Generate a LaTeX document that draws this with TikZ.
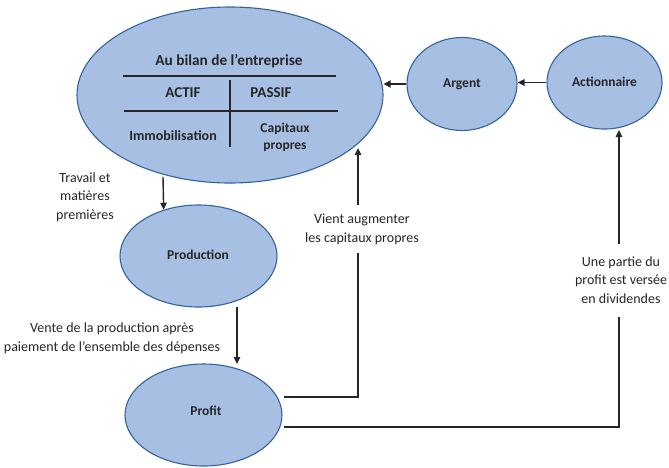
\documentclass[tikz,border=0pt]{standalone}
\usepackage{fontspec}
\setmainfont{Carlito}
\usetikzlibrary{arrows.meta,shapes.geometric}
\definecolor{bubble}{RGB}{167,191,227}
\definecolor{bubbleedge}{RGB}{52,98,162}
\definecolor{ink}{RGB}{38,38,38}
\tikzset{
  bubblenode/.style={ellipse, draw=bubbleedge, line width=1.1pt, fill=bubble,
    inner sep=0pt, text=ink, font=\fontsize{13.5}{17}\selectfont\bfseries},
  lbl/.style={text=ink, font=\fontsize{14}{18.7}\selectfont, align=center, inner sep=1pt},
  tbl/.style={text=ink, font=\fontsize{13.5}{17}\selectfont\bfseries, align=center, inner sep=0pt},
  rule/.style={draw=ink, line width=1.5pt},
  arr/.style={draw=ink, line width=1.4pt, -{Triangle[length=7pt,width=6.5pt]}},
  arrthick/.style={draw=ink, line width=2.2pt, -{Triangle[length=7pt,width=7pt]}},
}
\begin{document}
\begin{tikzpicture}[x=1pt,y=-1pt]
\useasboundingbox (0,0) rectangle (669,467);

% ellipses
\node[bubblenode, minimum width=306pt, minimum height=176pt] (bilan) at (230,95) {};
\node[bubblenode, minimum width=110pt, minimum height=93pt] (argent) at (462,84) {};
\node[bubblenode, minimum width=115pt, minimum height=93pt] (actionnaire) at (604.5,82.5) {};
\node[bubblenode, minimum width=157pt, minimum height=102pt] (production) at (198.5,256) {};
\node[bubblenode, minimum width=157pt, minimum height=102pt] (profit) at (203.5,415) {};

% labels of the small ellipses
\node[tbl] (argentlbl) at (462,84) {Argent};
\node[tbl] (actionnairelbl) at (604.5,82) {Actionnaire};
\node[tbl] (productionlbl) at (198,255) {Production};
\node[tbl] (profitlbl) at (206,411) {Profit};

% balance sheet inside the big ellipse
\node[tbl, font=\fontsize{15.3}{18}\selectfont\bfseries] (titre) at (229,61) {Au bilan de l’entreprise};
\coordinate (r1a) at (123,76);  \coordinate (r1b) at (336,76);
\coordinate (r2a) at (124,111); \coordinate (r2b) at (338,111);
\coordinate (vta) at (230,80);  \coordinate (vtb) at (230,147);
\draw[rule] (r1a) -- (r1b);
\draw[rule] (r2a) -- (r2b);
\draw[rule] (vta) -- (vtb);
\node[tbl, font=\fontsize{15}{17}\selectfont\bfseries] (actif) at (183,93) {ACTIF};
\node[tbl, font=\fontsize{15}{17}\selectfont\bfseries] (passif) at (271,93) {PASSIF};
\node[tbl, font=\fontsize{14}{17}\selectfont\bfseries] (immo) at (173,136) {Immobilisation};
\node[tbl] (capitaux) at (285,137) {Capitaux\\propres};

% top row arrows
\draw[arrthick] (argent.west) -- (argent.west -| bilan.east);
\draw[arr] (actionnaire.west) -- (actionnaire.west -| argent.east);

% bilan -> production
\coordinate (travailtop) at (163,177);
\draw[arr] (travailtop) -- (production.127);
\node[lbl] (travail) at (85,197) {Travail et\\matières\\premières};

% production -> profit
\coordinate (ventetop) at (237,307);
\coordinate (ventebot) at (237,364);
\draw[arr] (ventetop) -- (ventebot);
\node[lbl] (vente) at (112,338) {Vente de la production après\\paiement de l’ensemble des dépenses};

% profit -> bilan
\coordinate (p1) at (284,397);
\coordinate (b1) at (358,148);
\draw[arr] (p1) -| (b1);
\node[lbl, fill=white, minimum height=48pt, inner xsep=2pt] (vient) at (362,229) {Vient augmenter\\les capitaux propres};

% profit -> actionnaire
\coordinate (p2) at (284,427);
\coordinate (a1) at (619,130);
\draw[arr] (p2) -| (a1);
\node[lbl, fill=white, minimum height=73pt, inner xsep=2pt] (dividendes) at (621,280) {Une partie du\\profit est versée\\en dividendes};
\end{tikzpicture}
\end{document}
